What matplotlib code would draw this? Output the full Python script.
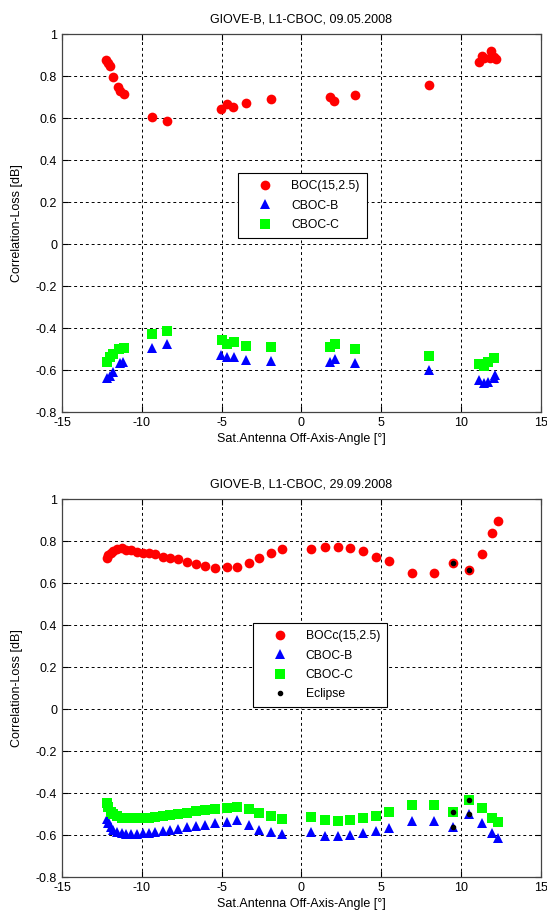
import numpy as np
import matplotlib
matplotlib.use("Agg")
import matplotlib.pyplot as plt

plt.rcParams['font.family'] = ['Liberation Sans', 'DejaVu Sans']
plt.rcParams['font.size'] = 9
plt.rcParams['axes.unicode_minus'] = False

# ---- 09.05.2008 ----
x1_boc = [-12.26, -12.11, -12.0, -11.8, -11.49, -11.38, -11.13, -9.39, -8.43,
          -5.03, -4.69, -4.28, -3.48, -1.89, 1.79, 2.06, 3.33, 7.99,
          11.09, 11.3, 11.46, 11.82, 11.88, 12.03, 12.2]
y1_boc = [0.876, 0.86, 0.85, 0.794, 0.749, 0.73, 0.714, 0.606, 0.584,
          0.641, 0.667, 0.651, 0.673, 0.689, 0.70, 0.683, 0.708, 0.757,
          0.868, 0.895, 0.884, 0.884, 0.92, 0.892, 0.88]

x1_cb = [-12.21, -12.0, -11.8, -11.38, -11.17, -9.35, -8.41, -5.05, -4.69, -4.23,
         -3.48, -1.89, 1.79, 2.1, 3.33, 7.99, 11.09, 11.4, 11.71, 12.03, 12.13]
y1_cb = [-0.64, -0.629, -0.608, -0.568, -0.56, -0.497, -0.478, -0.529, -0.54, -0.537,
         -0.552, -0.559, -0.56, -0.548, -0.568, -0.60, -0.648, -0.66, -0.656, -0.64, -0.624]

x1_cc = [-12.21, -12.0, -11.8, -11.42, -11.1, -9.35, -8.41, -5.0, -4.65, -4.23,
         -3.48, -1.89, 1.79, 2.1, 3.33, 7.99, 11.09, 11.4, 11.71, 12.07]
y1_cc = [-0.56, -0.537, -0.524, -0.50, -0.494, -0.43, -0.414, -0.457, -0.476, -0.468,
         -0.484, -0.489, -0.489, -0.478, -0.50, -0.532, -0.573, -0.581, -0.56, -0.544]

# ---- 29.09.2008 ----
x2 = [-12.21, -12.11, -11.96, -11.8, -11.55, -11.21, -10.96, -10.65, -10.29, -9.92,
      -9.54, -9.18, -8.66, -8.24, -7.72, -7.16, -6.61, -6.05, -5.42, -4.69,
      -4.03, -3.31, -2.65, -1.93, -1.2, 0.58, 1.45, 2.29, 3.04, 3.88,
      4.67, 5.47, 6.95, 8.31, 9.48, 10.52, 11.3, 11.92, 12.28]
y2_boc = [0.717, 0.733, 0.744, 0.754, 0.762, 0.765, 0.757, 0.757, 0.749, 0.744,
          0.741, 0.738, 0.725, 0.717, 0.714, 0.702, 0.69, 0.682, 0.673, 0.675,
          0.675, 0.695, 0.72, 0.744, 0.763, 0.76, 0.773, 0.773, 0.765, 0.754,
          0.725, 0.706, 0.648, 0.648, 0.697, 0.66, 0.738, 0.84, 0.895]
y2_cb = [-0.525, -0.545, -0.562, -0.575, -0.585, -0.592, -0.594, -0.595, -0.594, -0.592,
         -0.588, -0.585, -0.58, -0.575, -0.57, -0.563, -0.557, -0.551, -0.545, -0.537,
         -0.529, -0.552, -0.576, -0.584, -0.595, -0.584, -0.603, -0.605, -0.598, -0.589,
         -0.581, -0.565, -0.532, -0.532, -0.56, -0.50, -0.544, -0.589, -0.613]
y2_cc = [-0.449, -0.468, -0.488, -0.50, -0.51, -0.517, -0.52, -0.521, -0.52, -0.519,
         -0.517, -0.514, -0.509, -0.505, -0.499, -0.493, -0.487, -0.48, -0.475, -0.47,
         -0.465, -0.476, -0.494, -0.508, -0.524, -0.516, -0.529, -0.533, -0.529, -0.521,
         -0.511, -0.49, -0.457, -0.457, -0.492, -0.433, -0.47, -0.521, -0.538]
eclipse_x = [9.48, 10.52]

xticks = [-15, -10, -5, 0, 5, 10, 15]
yticks = [-0.8, -0.6, -0.4, -0.2, 0, 0.2, 0.4, 0.6, 0.8, 1]
ylabels = ['-0.8', '-0.6', '-0.4', '-0.2', '0', '0.2', '0.4', '0.6', '0.8', '1']

fig = plt.figure(figsize=(5.47, 9.17), dpi=100)
ax1 = fig.add_axes([0.1133, 0.5507, 0.8757, 0.4122])
ax2 = fig.add_axes([0.1133, 0.0436, 0.8757, 0.4122])


def style(ax, title):
    ax.set_xlim(-15, 15)
    ax.set_ylim(-0.8, 1)
    ax.set_xticks(xticks)
    ax.set_yticks(yticks)
    ax.set_yticklabels(ylabels)
    ax.grid(True, color='black', linestyle=(0, (3, 3)), linewidth=0.7)
    ax.set_axisbelow(True)
    ax.tick_params(direction='in', top=True, right=True, length=4, labelsize=9)
    for s in ax.spines.values():
        s.set_color('#444444')
        s.set_linewidth(0.9)
    ax.set_title(title, fontsize=9, pad=8)
    ax.set_xlabel('Sat.Antenna Off-Axis-Angle [°]', fontsize=9, labelpad=3)
    ax.set_ylabel('Correlation-Loss [dB]', fontsize=9, labelpad=9)


def legend(ax, anchor):
    leg = ax.legend(loc='upper left', bbox_to_anchor=anchor, borderaxespad=0,
                    fancybox=False, framealpha=1, edgecolor='black', fontsize=8.7,
                    handlelength=3.3, handletextpad=0.5, borderpad=0.6,
                    labelspacing=0.6)
    leg.get_frame().set_linewidth(0.8)


ax1.plot(x1_boc, y1_boc, 'o', color='red', markersize=7, markeredgewidth=0, label='BOC(15,2.5)')
ax1.plot(x1_cb, y1_cb, '^', color='blue', markersize=7, markeredgewidth=0, label='CBOC-B')
ax1.plot(x1_cc, y1_cc, 's', color='#00ff00', markersize=6.5, markeredgewidth=0, label='CBOC-C')
style(ax1, 'GIOVE-B, L1-CBOC, 09.05.2008')
legend(ax1, (0.367, 0.632))

x2a = np.array(x2)
ax2.plot(x2, y2_boc, 'o', color='red', markersize=7, markeredgewidth=0, label='BOCc(15,2.5)')
ax2.plot(x2, y2_cb, '^', color='blue', markersize=7, markeredgewidth=0, label='CBOC-B')
ax2.plot(x2, y2_cc, 's', color='#00ff00', markersize=6.5, markeredgewidth=0, label='CBOC-C')
mask = np.isin(x2a, eclipse_x)
ex = np.concatenate([x2a[mask]] * 3)
ey = np.concatenate([np.array(y2_boc)[mask], np.array(y2_cb)[mask], np.array(y2_cc)[mask]])
ax2.plot(ex, ey, '.', color='black', markersize=6, label='Eclipse')
style(ax2, 'GIOVE-B, L1-CBOC, 29.09.2008')
legend(ax2, (0.398, 0.672))

fig.savefig('out.png', dpi=100)
